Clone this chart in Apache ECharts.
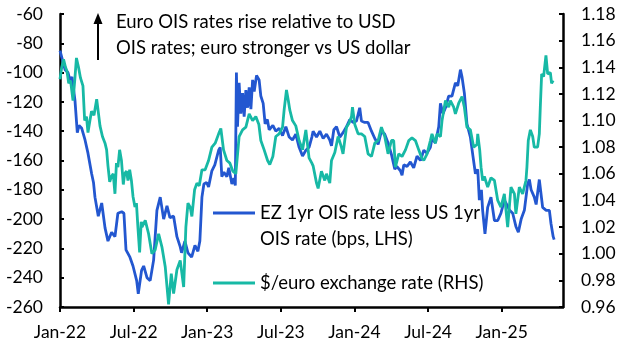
<!DOCTYPE html>
<html><head><meta charset="utf-8">
<script src="https://cdn.jsdelivr.net/npm/echarts@6/dist/echarts.min.js"></script>
<style>html,body{margin:0;padding:0;background:#fff}#c{width:628px;height:353px}</style>
</head><body><div id="c"></div>
<script>
// x values are months since 1 Jan 2022
const xTickMonths = [0, 6, 12, 18, 24, 30, 36];
const xTickLabels = ['Jan-22', 'Jul-22', 'Jan-23', 'Jul-23', 'Jan-24', 'Jul-24', 'Jan-25'];
const seriesNames = ['EZ 1yr OIS rate less US 1yr OIS rate (bps, LHS)', '$/euro exchange rate (RHS)'];
const legendLines = ['EZ 1yr OIS rate less US 1yr\nOIS rate (bps, LHS)', '$/euro exchange rate (RHS)'];
const noteText = 'Euro OIS rates rise relative to USD\nOIS rates; euro stronger vs US dollar';

// EZ 1yr OIS less US 1yr OIS (bps) : [month, value]
const ezSpread = [
[0,-85],[0.08,-86],[0.41,-98],[0.65,-100],[0.81,-105],[0.98,-103],[1.22,-119],[1.41,-141],[1.55,-136],[1.77,-138],
[2.04,-146],[2.28,-155],[2.58,-169],[2.73,-175],[2.85,-185],[3.12,-198],[3.40,-189],[3.67,-206],[3.91,-215],[4.21,-209],
[4.48,-212],[4.72,-196],[5.03,-195],[5.21,-196],[5.38,-221],[5.70,-226],[5.95,-232],[6.25,-242],[6.38,-251],[6.65,-235],
[6.82,-232],[7.09,-240],[7.35,-242],[7.63,-228],[7.90,-194],[8.17,-185],[8.45,-200],[8.72,-191],[8.96,-199],[9.26,-198],
[9.53,-212],[9.80,-219],[9.91,-223],[10.18,-215],[10.43,-223],[10.73,-226],[11.00,-218],[11.24,-222],[11.40,-215],[11.57,-185],
[11.73,-176],[11.95,-175],[12.11,-178],[12.38,-167],[12.62,-163],[12.93,-153],[13.06,-151],[13.19,-171],[13.36,-168],[13.60,-171],
[13.76,-165],[14.01,-176],[14.17,-172],[14.29,-177],[14.38,-100],[14.47,-137],[14.60,-107],[14.74,-128],[14.88,-114],[15.01,-130],
[15.15,-112],[15.29,-124],[15.42,-110],[15.56,-125],[15.70,-105],[15.83,-113],[16.02,-102],[16.23,-105],[16.37,-116],[16.56,-121],
[16.72,-135],[16.90,-132],[17.05,-139],[17.35,-136],[17.59,-140],[17.86,-138],[18.14,-143],[18.41,-137],[18.68,-144],[18.95,-146],
[19.22,-142],[19.49,-151],[19.77,-157],[20.04,-153],[20.30,-151],[20.53,-144],[20.63,-140],[20.91,-144],[21.18,-140],[21.45,-145],
[21.72,-142],[21.99,-146],[22.13,-150],[22.32,-139],[22.54,-137],[22.81,-144],[23.07,-141],[23.35,-137],[23.62,-132],[23.89,-134],
[24.17,-133],[24.43,-124],[24.57,-133],[24.84,-134],[25.11,-134],[25.39,-140],[25.66,-145],[25.93,-149],[26.20,-140],[26.47,-142],
[26.74,-148],[27.02,-156],[27.29,-166],[27.45,-164],[27.75,-167],[27.88,-170],[28.02,-163],[28.29,-164],[28.56,-161],[28.83,-165],
[29.10,-157],[29.38,-160],[29.65,-153],[29.92,-155],[30.19,-151],[30.32,-145],[30.60,-148],[30.87,-137],[31.01,-121],[31.22,-128],
[31.42,-124],[31.68,-116],[31.95,-116],[32.23,-107],[32.42,-109],[32.64,-98],[32.77,-103],[32.96,-114],[33.17,-135],[33.45,-144],
[33.66,-157],[33.86,-169],[34.05,-166],[34.18,-187],[34.35,-180],[34.45,-194],[34.64,-210],[34.86,-192],[35.13,-185],[35.41,-201],
[35.68,-201],[35.94,-196],[36.22,-187],[36.41,-190],[36.65,-194],[36.90,-196],[37.16,-205],[37.36,-209],[37.59,-200],[37.85,-194],
[38.12,-176],[38.26,-173],[38.40,-180],[38.66,-185],[38.81,-190],[39.07,-173],[39.22,-173],[39.34,-192],[39.63,-194],[39.89,-194],
[40.02,-203],[40.20,-212],[40.28,-214]
];

// $/euro exchange rate : [month, value]
const eurUsd = [
[0,1.131],[0.14,1.140],[0.29,1.146],[0.45,1.140],[0.57,1.137],[0.71,1.128],[0.86,1.130],[1.06,1.115],[1.20,1.130],[1.34,1.147],
[1.51,1.140],[1.67,1.132],[1.87,1.126],[2.01,1.100],[2.16,1.103],[2.28,1.091],[2.44,1.100],[2.57,1.107],[2.77,1.104],[2.99,1.116],
[3.14,1.105],[3.26,1.096],[3.46,1.088],[3.67,1.083],[3.80,1.078],[3.91,1.066],[4.05,1.054],[4.19,1.058],[4.34,1.060],[4.48,1.045],
[4.60,1.068],[4.72,1.065],[4.86,1.078],[5.01,1.070],[5.16,1.052],[5.27,1.060],[5.42,1.062],[5.54,1.055],[5.68,1.063],[5.82,1.055],
[5.95,1.043],[6.11,1.035],[6.23,1.038],[6.35,1.020],[6.49,1.001],[6.62,1.024],[6.68,1.020],[6.95,1.025],[7.22,1.015],[7.49,1.000],
[7.76,1.003],[8.04,1.015],[8.31,1.005],[8.58,0.990],[8.85,0.962],[9.07,0.985],[9.26,0.970],[9.53,0.988],[9.80,0.995],[10.08,0.975],
[10.26,1.020],[10.43,1.038],[10.61,1.035],[10.75,1.028],[10.97,1.048],[11.16,1.053],[11.35,1.051],[11.57,1.063],[11.83,1.063],[12.11,1.070],
[12.38,1.080],[12.65,1.083],[12.93,1.090],[13.11,1.094],[13.33,1.078],[13.60,1.070],[13.85,1.068],[14.09,1.062],[14.33,1.060],[14.60,1.088],
[14.88,1.093],[15.15,1.095],[15.42,1.105],[15.70,1.100],[15.96,1.103],[16.21,1.097],[16.37,1.085],[16.64,1.078],[16.92,1.070],[17.10,1.067],
[17.35,1.073],[17.59,1.088],[17.86,1.090],[18.14,1.095],[18.27,1.108],[18.46,1.123],[18.61,1.115],[18.73,1.108],[18.95,1.100],[19.22,1.096],
[19.49,1.085],[19.77,1.078],[20.04,1.093],[20.30,1.072],[20.53,1.068],[20.63,1.066],[20.91,1.053],[21.04,1.049],[21.31,1.062],[21.58,1.055],
[21.72,1.060],[21.99,1.053],[22.13,1.070],[22.40,1.076],[22.67,1.088],[22.94,1.080],[23.07,1.075],[23.35,1.095],[23.56,1.098],[23.76,1.103],
[23.84,1.110],[24.03,1.097],[24.30,1.090],[24.57,1.090],[24.84,1.088],[25.11,1.075],[25.39,1.073],[25.66,1.083],[25.93,1.085],[26.20,1.095],
[26.47,1.088],[26.74,1.075],[27.02,1.085],[27.20,1.085],[27.34,1.065],[27.61,1.075],[27.88,1.073],[28.16,1.078],[28.43,1.085],[28.69,1.087],
[28.97,1.085],[29.24,1.078],[29.48,1.072],[29.65,1.070],[29.92,1.075],[30.19,1.085],[30.32,1.090],[30.60,1.083],[30.73,1.090],[31.01,1.088],
[31.14,1.100],[31.42,1.115],[31.68,1.110],[31.82,1.115],[32.09,1.110],[32.23,1.105],[32.50,1.113],[32.77,1.118],[32.96,1.110],[33.17,1.095],
[33.45,1.093],[33.72,1.080],[33.99,1.082],[34.05,1.090],[34.21,1.078],[34.32,1.065],[34.45,1.055],[34.59,1.058],[34.86,1.050],[35.13,1.057],
[35.41,1.055],[35.68,1.040],[35.94,1.035],[36.22,1.045],[36.49,1.020],[36.76,1.050],[37.04,1.045],[37.16,1.030],[37.44,1.050],[37.71,1.045],
[37.98,1.055],[38.06,1.065],[38.17,1.085],[38.34,1.093],[38.53,1.088],[38.66,1.080],[38.93,1.080],[39.07,1.090],[39.15,1.110],[39.26,1.135],
[39.42,1.133],[39.61,1.149],[39.75,1.135],[39.97,1.136],[40.07,1.128],[40.20,1.130]
];

const BLUE = '#2357D0';
const TEAL = '#17B9A5';
const FONT = 'Lato';

const chart = echarts.init(document.getElementById('c'), null, {renderer: 'canvas'});
const axisLineStyle = {color: '#000', width: 2.5};
chart.setOption({
  animation: false,
  textStyle: {fontFamily: FONT},
  grid: {left: 60, right: 65, top: 14, bottom: 46, containLabel: false},
  xAxis: {
    type: 'value', min: 0, max: 41, interval: 6,
    axisLine: {show: true, lineStyle: axisLineStyle, onZero: false},
    axisTick: {show: true, inside: false, length: 5, lineStyle: {color: '#000', width: 2}, customValues: xTickMonths},
    axisLabel: {customValues: xTickMonths, color: '#000', fontSize: 17.5, fontFamily: FONT, margin: 16,
      formatter: v => xTickLabels[xTickMonths.indexOf(Math.round(v))] || ''},
    splitLine: {show: false}
  },
  yAxis: [{
    type: 'value', min: -260, max: -60, interval: 20, position: 'left',
    axisLine: {show: true, lineStyle: axisLineStyle},
    axisTick: {show: true, inside: true, length: 4, lineStyle: {color: '#000', width: 2}},
    axisLabel: {color: '#000', fontSize: 17.5, fontFamily: FONT, margin: 17},
    splitLine: {show: false}
  }, {
    type: 'value', min: 0.96, max: 1.18, interval: 0.02, position: 'right',
    axisLine: {show: true, lineStyle: axisLineStyle},
    axisTick: {show: true, inside: true, length: 4, lineStyle: {color: '#000', width: 2}},
    axisLabel: {color: '#000', fontSize: 17.5, fontFamily: FONT, margin: 18, formatter: v => v.toFixed(2)},
    splitLine: {show: false}
  }],
  series: [{
    name: seriesNames[0], type: 'line', yAxisIndex: 0, data: ezSpread, showSymbol: false,
    lineStyle: {color: BLUE, width: 2.8}, itemStyle: {color: BLUE}, z: 2
  }, {
    name: seriesNames[1], type: 'line', yAxisIndex: 1, data: eurUsd, showSymbol: false,
    lineStyle: {color: TEAL, width: 2.8}, itemStyle: {color: TEAL}, z: 3
  }],
  graphic: [
    {type: 'line', shape: {x1: 98, y1: 60, x2: 98, y2: 22}, style: {stroke: '#000', lineWidth: 2}},
    {type: 'polygon', shape: {points: [[98, 13], [93.5, 24], [102.5, 24]]}, style: {fill: '#000'}},
    {type: 'text', left: 116, top: 9, style: {text: noteText, font: '18.5px ' + FONT, fill: '#000', lineHeight: 26}},
    {type: 'line', shape: {x1: 213, y1: 213, x2: 255, y2: 213}, style: {stroke: BLUE, lineWidth: 3}},
    {type: 'text', left: 260, top: 200, style: {text: legendLines[0], font: '18.5px ' + FONT, fill: '#000', lineHeight: 26}},
    {type: 'line', shape: {x1: 213, y1: 283, x2: 255, y2: 283}, style: {stroke: TEAL, lineWidth: 3}},
    {type: 'text', left: 260, top: 270, style: {text: legendLines[1], font: '18.5px ' + FONT, fill: '#000', lineHeight: 26}}
  ]
});
</script></body></html>
